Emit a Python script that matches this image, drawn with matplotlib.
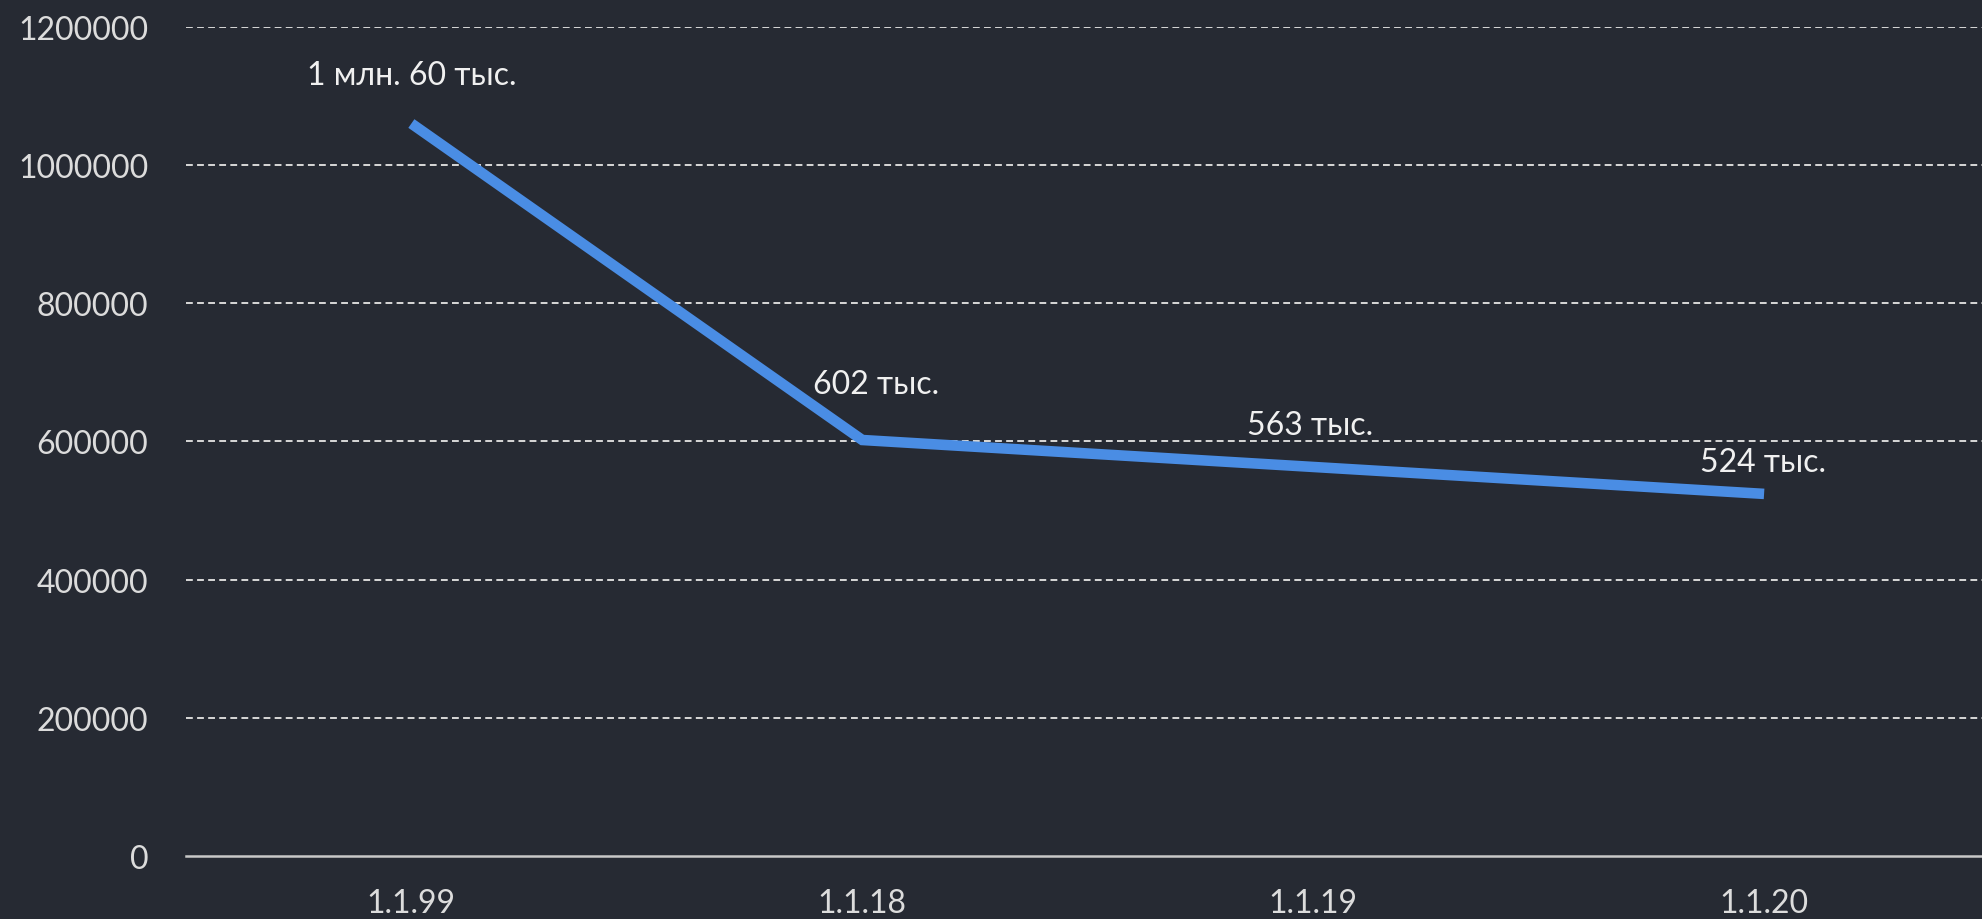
import matplotlib
matplotlib.use("Agg")
import matplotlib.pyplot as plt

categories = ["1.1.99", "1.1.18", "1.1.19", "1.1.20"]
values = [1060000, 602000, 563000, 524000]
labels = ["1 млн. 60 тыс.", "602 тыс.", "563 тыс.", "524 тыс."]
yticks = [0, 200000, 400000, 600000, 800000, 1000000, 1200000]

label_offsets = [(0, 35), (10, 40), (-2, 30), (-1, 23)]

bg = "#262a33"
plt.rcParams['font.family'] = ['Lato', 'DejaVu Sans']

fig = plt.figure(figsize=(19.82, 9.20), dpi=100, facecolor=bg)
ax = fig.add_axes([0.0938, 0.0685, 0.91, 0.9013])
ax.set_facecolor(bg)

x = list(range(len(categories)))
ax.plot(x, values, color="#4a8de4", linewidth=7.6, solid_capstyle="butt",
        solid_joinstyle="miter", zorder=3)

for xi, v, lab, off in zip(x, values, labels, label_offsets):
    ax.annotate(lab, (xi, v), xytext=off, textcoords="offset points",
                ha="center", va="center", color="#f0f0f0", fontsize=23)

ax.set_xlim(-0.5, 3.5)
ax.set_ylim(0, 1200000)
ax.set_xticks(x)
ax.set_xticklabels(categories)
ax.set_yticks(yticks)
ax.set_yticklabels([str(t) for t in yticks])

for t in yticks[1:]:
    ax.axhline(t, color="#d8d8d8", linewidth=1.4, linestyle=(0, (3.5, 2.2)), zorder=1)
ax.axhline(0, color="#c8c8c8", linewidth=1.8, zorder=2, clip_on=False)

for s in ax.spines.values():
    s.set_visible(False)
ax.tick_params(axis='both', length=0, colors="#dcdcdc", labelsize=23)
ax.tick_params(axis='y', pad=27)
ax.tick_params(axis='x', pad=23)

fig.savefig("out.png", dpi=100, facecolor=bg)
